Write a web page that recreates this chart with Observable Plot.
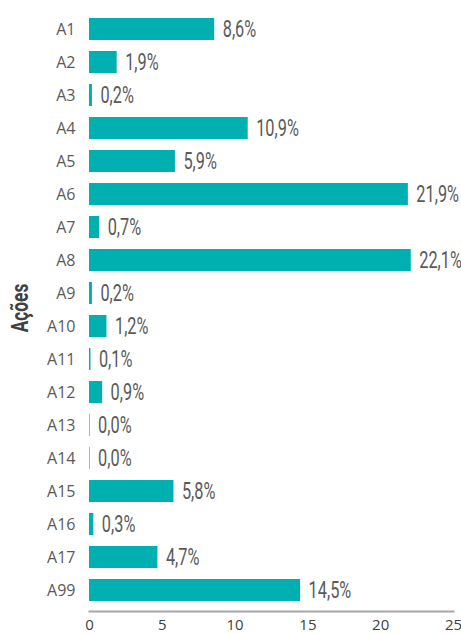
<!DOCTYPE html>
<html>
<head>
<meta charset="utf-8">
<script src="https://cdn.jsdelivr.net/npm/d3@7"></script>
<script src="https://cdn.jsdelivr.net/npm/@observablehq/plot@0.6"></script>
<style>
  html, body { margin: 0; padding: 0; background: #fff; }
  #chart svg { display: block; }
</style>
</head>
<body>
<div id="chart"></div>
<script>
const categories = ["A1","A2","A3","A4","A5","A6","A7","A8","A9","A10","A11","A12","A13","A14","A15","A16","A17","A99"];
const values = [8.6, 1.9, 0.2, 10.9, 5.9, 21.9, 0.7, 22.1, 0.2, 1.2, 0.1, 0.9, 0.04, 0.04, 5.8, 0.3, 4.7, 14.5];
const xTicks = [0, 5, 10, 15, 20, 25];
const yLabel = "Ações";

const data = categories.map((c, i) => ({name: c, value: values[i]}));
const fmt = v => v.toFixed(1).replace(".", ",") + "%";

const chart = Plot.plot({
  width: 461,
  height: 634,
  marginLeft: 89,
  marginRight: 8,
  marginTop: 8,
  marginBottom: 23,
  style: {fontFamily: "'Open Sans', sans-serif", fontSize: "15px", background: "#fff", overflow: "visible"},
  x: {domain: [0, 25], ticks: xTicks},
  y: {domain: categories, paddingInner: 0.34, paddingOuter: 0.17},
  marks: [
    Plot.barX(data, {x: "value", y: "name", fill: "#00AFAF"}),
    Plot.text(data, {x: "value", y: "name", text: d => fmt(d.value), textAnchor: "start", dx: 8, fontSize: 24, fill: "#5a5a5a", fontFamily: "Roboto"}),
    Plot.frame({anchor: "bottom", stroke: "#a6a6a6", strokeWidth: 2}),
    Plot.axisX({ticks: xTicks, tickSize: 0, tickPadding: 8, label: null, color: "#404040"}),
    Plot.axisY({tickSize: 0, tickPadding: 14, label: null, color: "#5a5a5a"}),
    Plot.text([yLabel], {frameAnchor: "left", textAnchor: "middle", dx: -69, dy: -2, rotate: -90, text: d => d, fontSize: 24, fontWeight: "bold", fill: "#404040", fontFamily: "Roboto"})
  ]
});

// condense glyphs horizontally (reference uses a condensed typeface)
function condense(node, s) {
  const t = node.getAttribute("transform") || "";
  const xa = node.getAttribute("x");
  if (xa !== null && !isNaN(+xa)) node.setAttribute("x", +xa / s);
  node.setAttribute("transform", `${t} scale(${s},1)`);
}
const xTickStrings = new Set(xTicks.map(String));
const yTickStrings = new Set(categories);
d3.select(chart).selectAll("text").each(function() {
  const s = this.textContent;
  if (/%$/.test(s)) condense(this, 0.68);
  else if (s === yLabel) condense(this, 0.72);
  else if (yTickStrings.has(s)) this.style.fontSize = "16px";
  else if (xTickStrings.has(s)) this.style.fontSize = "15px";
});

document.getElementById("chart").appendChild(chart);
</script>
</body>
</html>
